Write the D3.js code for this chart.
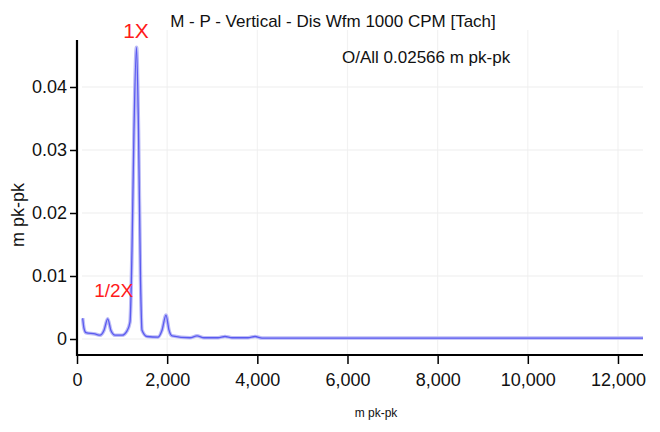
<!DOCTYPE html>
<html>
<head>
<meta charset="utf-8">
<script src="https://cdn.jsdelivr.net/npm/d3@7"></script>
<style>
  html, body { margin: 0; padding: 0; background: #fff; }
  svg { display: block; font-family: "Liberation Sans", Arial, sans-serif; }
</style>
</head>
<body>
<svg id="chart" width="660" height="432"></svg>
<script>
// Spectrum samples: frequency (CPM) and displacement amplitude (m pk-pk)
const freqs = [126, 155, 200, 400, 510, 600, 681, 755, 843, 1000, 1110, 1176, 1220, 1264, 1320,
  1364, 1409, 1442, 1553, 1797, 1886, 1974, 2041, 2107, 2507, 2662, 2817, 3128, 3283, 3438,
  3793, 3949, 4104, 6000, 8000, 10000, 12555];
const amps = [0.0033, 0.0017, 0.0010, 0.0008, 0.0006, 0.0014, 0.0032, 0.0013, 0.0006, 0.0006,
  0.0013, 0.0027, 0.0141, 0.0332, 0.0463, 0.0332, 0.0094, 0.0014, 0.0004, 0.0003, 0.0014,
  0.0038, 0.0014, 0.0005, 0.0002, 0.0005, 0.0002, 0.0002, 0.0004, 0.0002, 0.0002, 0.0004,
  0.00015, 0.00015, 0.00015, 0.00015, 0.00015];

const xTicks = [0, 2000, 4000, 6000, 8000, 10000, 12000];
const yTicks = [0, 0.01, 0.02, 0.03, 0.04];

// Order labels placed over the peaks
const peakLabels = [
  { text: "1X", freq: 1320, amp: 0.0463 },
  { text: "1/2X", freq: 681, amp: 0.0032 }
];

const titleText = "M - P - Vertical - Dis Wfm 1000 CPM [Tach]";
const overallText = "O/All 0.02566 m pk-pk";
const unitText = "m pk-pk";

const svg = d3.select("#chart");
const x = d3.scaleLinear().domain([0, 12555]).range([77, 643]);
const y = d3.scaleLinear().domain([0, 0.04746]).range([339, 40]);

// faint grid
const grid = svg.append("g");
grid.selectAll("line.v").data(xTicks.slice(1)).join("line")
  .attr("x1", d => x(d)).attr("x2", d => x(d))
  .attr("y1", 30).attr("y2", 355)
  .attr("stroke", "#f2f2f2").attr("stroke-width", 1.2);
grid.selectAll("line.h").data(yTicks).join("line")
  .attr("x1", 82).attr("x2", 643)
  .attr("y1", d => y(d)).attr("y2", d => y(d))
  .attr("stroke", "#eeeeee").attr("stroke-width", 1.2);

// spectrum line: soft halo under a crisp trace
const pts = freqs.map((f, i) => [f, amps[i]]);
const line = d3.line().x(d => x(d[0])).y(d => y(d[1])).curve(d3.curveMonotoneX);
svg.append("path").datum(pts).attr("d", line)
  .attr("fill", "none").attr("stroke", "#bcbcf6").attr("stroke-width", 3.6)
  .attr("stroke-linejoin", "round");
svg.append("path").datum(pts).attr("d", line)
  .attr("fill", "none").attr("stroke", "#5a5af0").attr("stroke-width", 1.3)
  .attr("stroke-linejoin", "round");

// x axis
const xAxis = svg.append("g").attr("transform", "translate(0,355)")
  .call(d3.axisBottom(x).tickValues(xTicks).tickSize(9).tickPadding(9)
    .tickFormat(d3.format(",")));
xAxis.select(".domain").attr("stroke", "#000").attr("stroke-width", 2.2)
  .attr("d", `M${x(0)},0H643`);
xAxis.selectAll(".tick line").attr("stroke", "#000").attr("stroke-width", 1.5);
xAxis.selectAll(".tick text").attr("font-size", 18).attr("fill", "#111")
  .attr("font-family", "Liberation Sans, Arial, sans-serif");

// y axis
const yAxis = svg.append("g").attr("transform", `translate(${x(0)},0)`)
  .call(d3.axisLeft(y).tickValues(yTicks).tickSize(7).tickPadding(3)
    .tickFormat(d => d === 0 ? "0" : d3.format(".2f")(d)));
yAxis.select(".domain").attr("stroke", "#000").attr("stroke-width", 2.2)
  .attr("d", "M0,40V356");
yAxis.selectAll(".tick line").attr("stroke", "#000").attr("stroke-width", 1.5);
yAxis.selectAll(".tick text").attr("font-size", 18).attr("fill", "#111")
  .attr("font-family", "Liberation Sans, Arial, sans-serif");

// titles
svg.append("text").attr("x", 333).attr("y", 27).attr("text-anchor", "middle")
  .attr("font-size", 17).attr("fill", "#111").text(titleText);
svg.append("text").attr("x", 342).attr("y", 63)
  .attr("font-size", 17).attr("fill", "#111").text(overallText);

// axis titles
svg.append("text").attr("transform", "translate(24,215) rotate(-90)")
  .attr("text-anchor", "middle").attr("font-size", 18).attr("fill", "#111").text(unitText);
svg.append("text").attr("x", 376).attr("y", 417).attr("text-anchor", "middle")
  .attr("font-size", 12).attr("fill", "#111").text(unitText);

// peak labels
svg.append("text").attr("x", x(peakLabels[0].freq) - 0.5).attr("y", y(peakLabels[0].amp) - 9)
  .attr("text-anchor", "middle").attr("font-size", 21).attr("fill", "#ff1a1a").text(peakLabels[0].text);
svg.append("text").attr("x", x(peakLabels[1].freq) + 6).attr("y", y(peakLabels[1].amp) - 22)
  .attr("text-anchor", "middle").attr("font-size", 19).attr("fill", "#ff1a1a").text(peakLabels[1].text);
</script>
</body>
</html>
